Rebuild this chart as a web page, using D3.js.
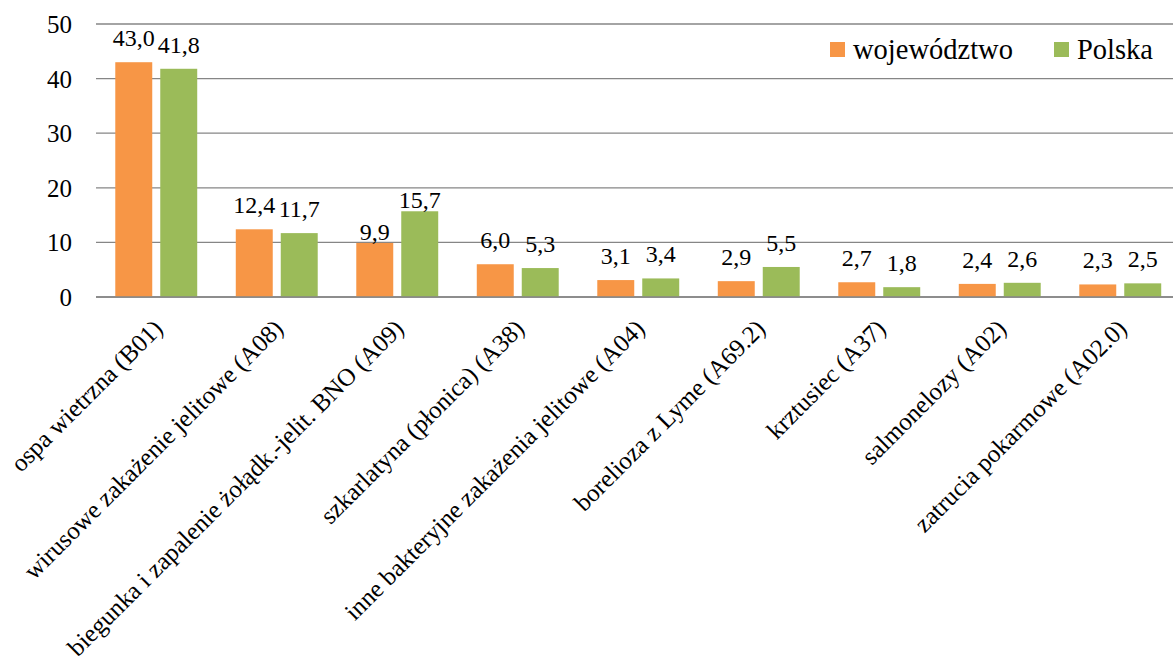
<!DOCTYPE html>
<html>
<head>
<meta charset="utf-8">
<script src="https://cdn.jsdelivr.net/npm/d3@7"></script>
<style>
  html, body { margin: 0; padding: 0; background: #fff; }
  svg { display: block; }
</style>
</head>
<body>
<svg id="chart" width="1173" height="657"></svg>
<script>
const categories = [
  "ospa wietrzna (B01)",
  "wirusowe zakażenie jelitowe (A08)",
  "biegunka i zapalenie żołądk.-jelit. BNO (A09)",
  "szkarlatyna (płonica) (A38)",
  "inne bakteryjne zakażenia jelitowe (A04)",
  "borelioza z Lyme (A69.2)",
  "krztusiec (A37)",
  "salmonelozy (A02)",
  "zatrucia pokarmowe (A02.0)"
];
const seriesNames = ["województwo", "Polska"];
const wojewodztwo = [43.0, 12.4, 9.9, 6.0, 3.1, 2.9, 2.7, 2.4, 2.3];
const polska = [41.8, 11.7, 15.7, 5.3, 3.4, 5.5, 1.8, 2.6, 2.5];
const yTicks = [0, 10, 20, 30, 40, 50];

const FONT = "Liberation Serif";
const colors = ["#F79646", "#9BBB59"];
const seriesValues = [wojewodztwo, polska];

const svg = d3.select("#chart");

const x0 = d3.scaleBand().domain(categories).range([96, 1180.5])
  .paddingInner(0.32).paddingOuter(0.16);
const x1 = d3.scaleBand().domain(seriesNames).range([0, x0.bandwidth()])
  .paddingInner(0.178);
const y = d3.scaleLinear().domain([0, 50]).range([297, 24]);

const fmt = v => d3.format(".1f")(v).replace(".", ",");

// gridlines
svg.append("g").selectAll("line").data(yTicks).join("line")
  .attr("x1", 96).attr("x2", 1180.5)
  .attr("y1", d => y(d)).attr("y2", d => y(d))
  .attr("stroke", "#868686").attr("stroke-width", 1.3);

// y axis tick labels
const yAxis = d3.axisLeft(y).tickValues(yTicks).tickSize(0).tickPadding(0).tickFormat(d3.format("d"));
const ya = svg.append("g").attr("transform", "translate(72,0)").call(yAxis);
ya.select(".domain").remove();
ya.selectAll("text").attr("font-size", 25).attr("fill", "#000")
  .style("font-family", FONT).attr("dy", "0.34em");

// bars
const groups = svg.append("g").selectAll("g").data(categories).join("g")
  .attr("transform", d => `translate(${x0(d)},0)`);

// label offsets: labels above bars; two are placed closer (as in the original)
const closeLabels = { "2-0": true, "2-1": true };

seriesNames.forEach((s, si) => {
  groups.append("rect")
    .attr("x", x1(s))
    .attr("width", x1.bandwidth())
    .attr("y", (d, i) => y(seriesValues[si][i]))
    .attr("height", (d, i) => y(0) - y(seriesValues[si][i]))
    .attr("fill", colors[si]);
  groups.append("text")
    .attr("x", x1(s) + x1.bandwidth() / 2)
    .attr("y", (d, i) => y(seriesValues[si][i]) - (closeLabels[i + "-" + si] ? 3 : 16))
    .attr("text-anchor", "middle")
    .attr("font-size", 24)
    .style("font-family", FONT)
    .attr("fill", "#000")
    .text((d, i) => fmt(seriesValues[si][i]));
});

// baseline axis
svg.append("line").attr("x1", 96).attr("x2", 1180.5)
  .attr("y1", y(0)).attr("y2", y(0))
  .attr("stroke", "#868686").attr("stroke-width", 1.3);

// category labels
svg.append("g").selectAll("text").data(categories).join("text")
  .attr("transform", d => `translate(${x0(d) + x0.bandwidth() / 2 + 8},${330}) rotate(-45)`)
  .attr("text-anchor", "end")
  .attr("font-size", 25)
  .style("font-family", FONT)
  .attr("fill", "#000")
  .text(d => d);

// legend
const legend = svg.append("g");
const legendX = [830, 1054];
seriesNames.forEach((s, i) => {
  legend.append("rect").attr("x", legendX[i]).attr("y", 42).attr("width", 15).attr("height", 15).attr("fill", colors[i]);
  legend.append("text").attr("x", legendX[i] + 23).attr("y", 59).attr("font-size", 28.5)
    .style("font-family", FONT).attr("fill", "#000").text(s);
});
</script>
</body>
</html>
